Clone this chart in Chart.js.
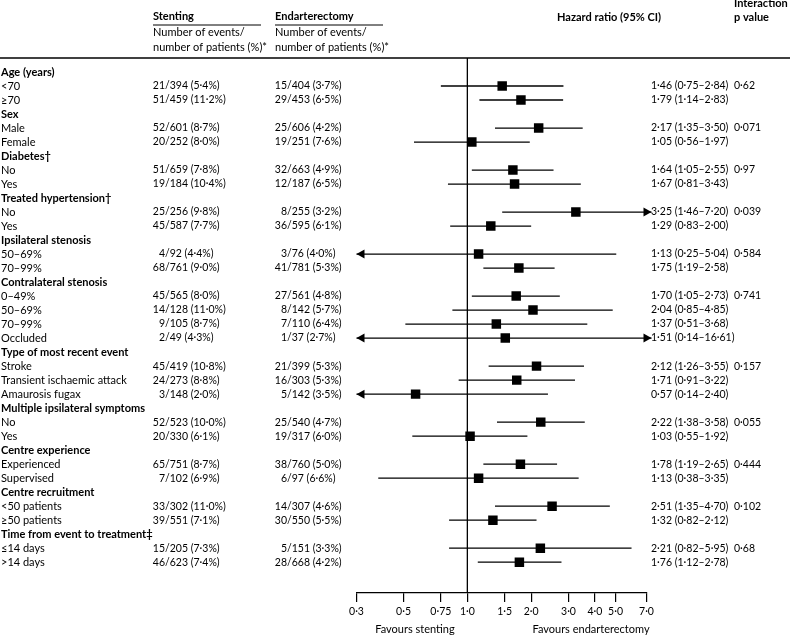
<!DOCTYPE html>
<html>
<head>
<meta charset="utf-8">
<script src="https://cdn.jsdelivr.net/npm/chart.js@4"></script>
<style>
  html, body { margin: 0; padding: 0; background: #fff; }
</style>
</head>
<body>
<canvas id="forest" width="792" height="636"></canvas>
<script>
// rows, top to bottom (null = group header row)
var rowLabels = ['Age (years)', '<70', '≥70', 'Sex', 'Male', 'Female', 'Diabetes†', 'No', 'Yes',
  'Treated hypertension†', 'No', 'Yes', 'Ipsilateral stenosis', '50–69%', '70–99%',
  'Contralateral stenosis', '0–49%', '50–69%', '70–99%', 'Occluded',
  'Type of most recent event', 'Stroke', 'Transient ischaemic attack', 'Amaurosis fugax',
  'Multiple ipsilateral symptoms', 'No', 'Yes', 'Centre experience', 'Experienced', 'Supervised',
  'Centre recruitment', '<50 patients', '≥50 patients', 'Time from event to treatment‡',
  '≤14 days', '>14 days'];

var stentCounts = [null, '21/394 (5·4%)', '51/459 (11·2%)', null, '52/601 (8·7%)', '20/252 (8·0%)',
  null, '51/659 (7·8%)', '19/184 (10·4%)', null, '25/256 (9·8%)', '45/587 (7·7%)',
  null, '4/92 (4·4%)', '68/761 (9·0%)', null, '45/565 (8·0%)', '14/128 (11·0%)', '9/105 (8·7%)', '2/49 (4·3%)',
  null, '45/419 (10·8%)', '24/273 (8·8%)', '3/148 (2·0%)', null, '52/523 (10·0%)', '20/330 (6·1%)',
  null, '65/751 (8·7%)', '7/102 (6·9%)', null, '33/302 (11·0%)', '39/551 (7·1%)',
  null, '15/205 (7·3%)', '46/623 (7·4%)'];

var endartCounts = [null, '15/404 (3·7%)', '29/453 (6·5%)', null, '25/606 (4·2%)', '19/251 (7·6%)',
  null, '32/663 (4·9%)', '12/187 (6·5%)', null, '8/255 (3·2%)', '36/595 (6·1%)',
  null, '3/76 (4·0%)', '41/781 (5·3%)', null, '27/561 (4·8%)', '8/142 (5·7%)', '7/110 (6·4%)', '1/37 (2·7%)',
  null, '21/399 (5·3%)', '16/303 (5·3%)', '5/142 (3·5%)', null, '25/540 (4·7%)', '19/317 (6·0%)',
  null, '38/760 (5·0%)', '6/97 (6·6%)', null, '14/307 (4·6%)', '30/550 (5·5%)',
  null, '5/151 (3·3%)', '28/668 (4·2%)'];

var hr = [null, 1.46, 1.79, null, 2.17, 1.05, null, 1.64, 1.67, null, 3.25, 1.29,
  null, 1.13, 1.75, null, 1.70, 2.04, 1.37, 1.51, null, 2.12, 1.71, 0.57,
  null, 2.22, 1.03, null, 1.78, 1.13, null, 2.51, 1.32, null, 2.21, 1.76];
var ciLow = [null, 0.75, 1.14, null, 1.35, 0.56, null, 1.05, 0.81, null, 1.46, 0.83,
  null, 0.25, 1.19, null, 1.05, 0.85, 0.51, 0.14, null, 1.26, 0.91, 0.14,
  null, 1.38, 0.55, null, 1.19, 0.38, null, 1.35, 0.82, null, 0.82, 1.12];
var ciHigh = [null, 2.84, 2.83, null, 3.50, 1.97, null, 2.55, 3.43, null, 7.20, 2.00,
  null, 5.04, 2.58, null, 2.73, 4.85, 3.68, 16.61, null, 3.55, 3.22, 2.40,
  null, 3.58, 1.92, null, 2.65, 3.35, null, 4.70, 2.12, null, 5.95, 2.78];
var pValues = [null, '0·62', null, null, '0·071', null, null, '0·97', null, null, '0·039', null,
  null, '0·584', null, null, '0·741', null, null, null, null, '0·157', null, null,
  null, '0·055', null, null, '0·444', null, null, '0·102', null, null, '0·68', null];

var xTicks = [0.3, 0.5, 0.75, 1, 1.5, 2, 3, 4, 5, 7];
var xTickLabels = ['0·3', '0·5', '0·75', '1·0', '1·5', '2·0', '3·0', '4·0', '5·0', '7·0'];

var FONT = 'Lato, "Open Sans", sans-serif';

function fmt(v) { return v.toFixed(2).replace('.', '·'); }

var points = [];
for (var i = 0; i < hr.length; i++) {
  if (hr[i] != null) points.push({ x: hr[i], y: i });
}

function seg(ctx, x0, y0, x1, y1) {
  ctx.beginPath(); ctx.moveTo(x0, y0); ctx.lineTo(x1, y1); ctx.stroke();
}

function arrow(ctx, tipX, y, dir) {
  ctx.beginPath();
  ctx.moveTo(tipX, y);
  ctx.lineTo(tipX - dir * 8, y - 4.5);
  ctx.lineTo(tipX - dir * 8, y + 4.5);
  ctx.closePath();
  ctx.fill();
}

// count text lined up on the slash
function countText(ctx, s, slashX, y) {
  var k = s.indexOf('/');
  ctx.textAlign = 'right';
  ctx.fillText(s.slice(0, k), slashX, y);
  ctx.textAlign = 'left';
  ctx.fillText(s.slice(k), slashX, y);
}

var forestPlugin = {
  id: 'forest',
  beforeDatasetsDraw: function (chart) {
    var ctx = chart.ctx, xs = chart.scales.x, ys = chart.scales.y, area = chart.chartArea;
    ctx.save();
    ctx.strokeStyle = '#000';
    ctx.fillStyle = '#000';
    ctx.lineWidth = 1.3;
    // header rule
    seg(ctx, 0, area.top, 790, area.top);
    // line of no effect
    var x1 = xs.getPixelForValue(1);
    seg(ctx, x1, area.top, x1, area.bottom);
    // confidence intervals
    for (var i = 0; i < hr.length; i++) {
      if (hr[i] == null) continue;
      var y = ys.getPixelForValue(i);
      var l = ciLow[i] < xs.min ? area.left : xs.getPixelForValue(ciLow[i]);
      var r = ciHigh[i] > xs.max ? area.right + 5 : xs.getPixelForValue(ciHigh[i]);
      seg(ctx, l, y, r, y);
      if (ciLow[i] < xs.min) arrow(ctx, l, y, -1);
      if (ciHigh[i] > xs.max) arrow(ctx, r, y, 1);
    }
    ctx.restore();
  },
  afterDraw: function (chart) {
    var ctx = chart.ctx, ys = chart.scales.y;
    ctx.save();
    ctx.fillStyle = '#000';
    ctx.strokeStyle = '#000';
    ctx.textBaseline = 'middle';

    // column headers
    ctx.font = '700 11px ' + FONT;
    ctx.textAlign = 'left';
    ctx.fillText('Stenting', 153, 16);
    ctx.fillText('Endarterectomy', 275, 16);
    ctx.fillText('Hazard ratio (95% CI)', 557, 17);
    ctx.fillText('Interaction', 734, 3);
    ctx.fillText('p value', 734, 17);
    ctx.lineWidth = 1;
    seg(ctx, 153, 25, 261, 25);
    seg(ctx, 275, 25, 383, 25);
    ctx.font = '11px ' + FONT;
    ctx.fillText('Number of events/', 153, 32);
    ctx.fillText('number of patients (%)*', 153, 47);
    ctx.fillText('Number of events/', 275, 32);
    ctx.fillText('number of patients (%)*', 275, 47);

    for (var i = 0; i < rowLabels.length; i++) {
      var y = ys.getPixelForValue(i);
      var header = hr[i] == null;
      ctx.font = (header ? '700 ' : '') + '11px ' + FONT;
      ctx.textAlign = 'left';
      ctx.fillText(rowLabels[i], 1, y);
      if (header) continue;
      ctx.font = '10.5px ' + FONT;
      countText(ctx, stentCounts[i], 165, y);
      countText(ctx, endartCounts[i], 287, y);
      ctx.textAlign = 'left';
      ctx.fillText(fmt(hr[i]) + ' (' + fmt(ciLow[i]) + '–' + fmt(ciHigh[i]) + ')', 651, y);
      if (pValues[i]) ctx.fillText(pValues[i], 734, y);
    }

    // axis captions
    ctx.font = '11px ' + FONT;
    ctx.textAlign = 'center';
    ctx.fillText('Favours stenting', 415, 629);
    ctx.fillText('Favours endarterectomy', 591, 629);
    ctx.restore();
  }
};

var ctx = document.getElementById('forest').getContext('2d');
var chart = new Chart(ctx, {
  type: 'scatter',
  data: {
    datasets: [{
      label: 'Hazard ratio',
      data: points,
      pointStyle: 'rect',
      pointRadius: 6.7,
      pointHoverRadius: 6.7,
      backgroundColor: '#000',
      borderWidth: 0
    }]
  },
  options: {
    responsive: false,
    animation: false,
    devicePixelRatio: 1,
    layout: { padding: { left: 356.5, right: 145.5, top: 58, bottom: 0 } },
    plugins: { legend: { display: false }, tooltip: { enabled: false } },
    scales: {
      x: {
        type: 'logarithmic',
        min: 0.3,
        max: 7,
        afterBuildTicks: function (scale) {
          scale.ticks = xTicks.map(function (v) { return { value: v }; });
        },
        afterFit: function (scale) { scale.height = 43; },
        grid: { drawOnChartArea: false, drawTicks: true, tickLength: 9, color: '#000', lineWidth: 1.2 },
        border: { display: true, color: '#000', width: 1.2 },
        ticks: {
          autoSkip: false,
          maxRotation: 0,
          padding: 3,
          color: '#000',
          font: { family: FONT, size: 10.5 },
          callback: function (value, index) { return xTickLabels[index]; }
        }
      },
      y: {
        type: 'linear',
        reverse: true,
        min: -1,
        max: 37.2,
        display: false
      }
    }
  },
  plugins: [forestPlugin]
});
</script>
</body>
</html>
